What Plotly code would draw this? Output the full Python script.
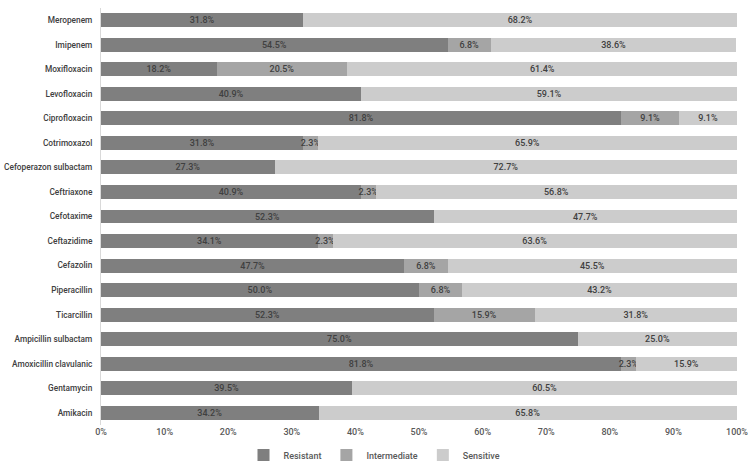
import plotly.graph_objects as go

categories = ["Meropenem", "Imipenem", "Moxifloxacin", "Levofloxacin", "Ciprofloxacin",
              "Cotrimoxazol", "Cefoperazon sulbactam", "Ceftriaxone", "Cefotaxime",
              "Ceftazidime", "Cefazolin", "Piperacillin", "Ticarcillin",
              "Ampicillin sulbactam", "Amoxicillin clavulanic", "Gentamycin", "Amikacin"]
resistant = [31.8, 54.5, 18.2, 40.9, 81.8, 31.8, 27.3, 40.9, 52.3, 34.1, 47.7, 50.0, 52.3, 75.0, 81.8, 39.5, 34.2]
intermediate = [0, 6.8, 20.5, 0, 9.1, 2.3, 0, 2.3, 0, 2.3, 6.8, 6.8, 15.9, 0, 2.3, 0, 0]
sensitive = [68.2, 38.6, 61.4, 59.1, 9.1, 65.9, 72.7, 56.8, 47.7, 63.6, 45.5, 43.2, 31.8, 25.0, 15.9, 60.5, 65.8]
series = [("Resistant", resistant, "#7f7f7f"),
          ("Intermediate", intermediate, "#a5a5a5"),
          ("Sensitive", sensitive, "#cccccc")]
tick_vals = [0, 10, 20, 30, 40, 50, 60, 70, 80, 90, 100]
tick_text = [f"{v}%" for v in tick_vals]

FONT = "Roboto, Liberation Sans, sans-serif"
fig = go.Figure()
for name, vals, color in series:
    fig.add_trace(go.Bar(
        y=categories, x=vals, name=name, orientation="h",
        marker=dict(color=color, line=dict(width=0)),
        text=[f"{v:.1f}%" if v > 0 else "" for v in vals],
        textposition="inside", insidetextanchor="middle",
        constraintext="none", textangle=0,
        textfont=dict(size=9, color="#404040", family=FONT, weight=500),
        hoverinfo="skip",
    ))

fig.update_layout(
    barmode="stack", bargap=0.43,
    width=749, height=462,
    margin=dict(l=101, r=12, t=8, b=37, autoexpand=False),
    paper_bgcolor="white", plot_bgcolor="white",
    font=dict(family=FONT, size=9, color="#595959", weight=500),
    legend=dict(orientation="h", x=0.5, xanchor="center", xref="container",
                y=0.015, yanchor="middle", yref="container",
                font=dict(size=9, color="#595959", weight=500), itemwidth=30,
                traceorder="normal", tracegroupgap=0),
    xaxis=dict(range=[0, 100], tickvals=tick_vals, ticktext=tick_text, showgrid=False,
               zeroline=False, showline=False, ticks="", automargin=False,
               tickfont=dict(size=9, color="#595959")),
    yaxis=dict(autorange="reversed", showgrid=False, showline=True, linecolor="#d9d9d9",
               linewidth=1, ticks="", ticklabelstandoff=6, automargin=False,
               tickfont=dict(size=8.3, color="#404040")),
)
fig.write_html("out.html", config={"displayModeBar": False},
               post_script="document.body.style.margin='0';")
